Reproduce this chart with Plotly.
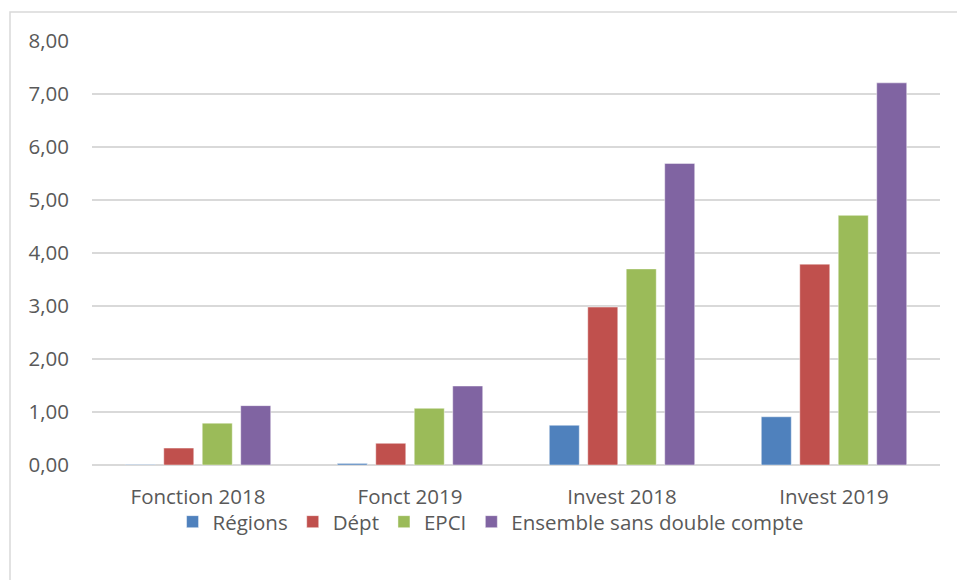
import plotly.graph_objects as go

categories = ["Fonction 2018", "Fonct 2019", "Invest 2018", "Invest 2019"]
regions = [0.01, 0.03, 0.75, 0.91]
dept = [0.32, 0.41, 2.98, 3.79]
epci = [0.79, 1.07, 3.70, 4.71]
ensemble = [1.12, 1.49, 5.69, 7.21]

series = [
    ("Régions", regions, "#4F81BD"),
    ("Dépt", dept, "#C0504D"),
    ("EPCI", epci, "#9BBB59"),
    ("Ensemble sans double compte", ensemble, "#8064A2"),
]

W, H = 957, 580
ML, MR, MT, MB = 92, 17, 41, 115
plot_w = W - ML - MR
plot_h = H - MT - MB

fig = go.Figure()
for name, vals, color in series:
    fig.add_trace(go.Bar(
        name=name, x=categories, y=vals,
        marker=dict(color=color, line=dict(color="rgba(255,255,255,0.45)", width=1)),
    ))

font_family = "Open Sans, Noto Sans, sans-serif"
grey = "#595959"
fsize = 20.5

fig.update_layout(
    width=W, height=H,
    margin=dict(l=ML, r=MR, t=MT, b=MB),
    paper_bgcolor="white", plot_bgcolor="white",
    barmode="group", bargap=0.274, bargroupgap=0.22,
    font=dict(family=font_family, size=fsize, color=grey),
    showlegend=True,
    legend=dict(
        orientation="h", x=0.470, xanchor="center", y=-0.134, yanchor="middle",
        font=dict(size=fsize, color=grey), traceorder="normal",
        itemwidth=30, bgcolor="rgba(0,0,0,0)",
    ),
    xaxis=dict(
        showgrid=False, showline=False, ticks="",
        tickfont=dict(size=fsize, color=grey), ticklabelstandoff=17,
    ),
    yaxis=dict(
        range=[0, 8], dtick=1, tickformat=".2f",
        showgrid=True, gridcolor="#D9D9D9", gridwidth=1.5,
        zeroline=True, zerolinecolor="#D9D9D9", zerolinewidth=1.5,
        showline=False, ticks="", ticklabelstandoff=22,
        tickfont=dict(size=fsize, color=grey),
    ),
    separators=", ",
)

# Chart frame: only the left and top edges fall inside the page
x0 = (10 - ML) / plot_w
y1 = (H - MB - 12) / plot_h
fig.add_shape(
    type="rect", xref="paper", yref="paper",
    x0=x0, x1=1.2, y0=-0.5, y1=y1,
    line=dict(color="#D9D9D9", width=1.5), fillcolor="rgba(0,0,0,0)", layer="below",
)

fig.write_html("out.html")
